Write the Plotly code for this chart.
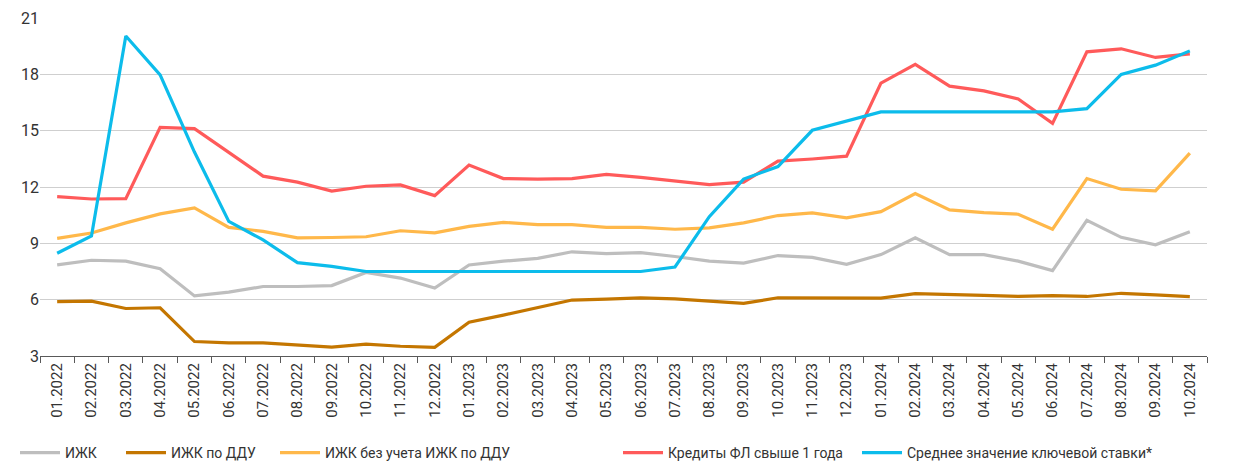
import plotly.graph_objects as go

months = ["01.2022","02.2022","03.2022","04.2022","05.2022","06.2022","07.2022","08.2022","09.2022","10.2022","11.2022","12.2022",
          "01.2023","02.2023","03.2023","04.2023","05.2023","06.2023","07.2023","08.2023","09.2023","10.2023","11.2023","12.2023",
          "01.2024","02.2024","03.2024","04.2024","05.2024","06.2024","07.2024","08.2024","09.2024","10.2024"]

izhk = [7.85,8.1,8.05,7.65,6.2,6.4,6.7,6.7,6.75,7.45,7.15,6.62,
        7.85,8.05,8.2,8.55,8.45,8.5,8.3,8.05,7.95,8.35,8.25,7.88,
        8.4,9.3,8.4,8.4,8.05,7.55,10.22,9.32,8.92,9.62]
izhk_ddu = [5.9,5.92,5.53,5.57,3.77,3.7,3.7,3.58,3.47,3.63,3.52,3.46,
            4.8,5.18,5.57,5.98,6.03,6.1,6.04,5.9,5.8,6.1,6.1,6.1,
            6.08,6.32,6.29,6.23,6.17,6.22,6.17,6.34,6.25,6.16]
izhk_wo_ddu = [9.26,9.55,10.09,10.57,10.89,9.85,9.64,9.29,9.31,9.35,9.67,9.56,
               9.9,10.12,10.0,10.0,9.85,9.85,9.75,9.82,10.09,10.48,10.62,10.36,
               10.69,11.65,10.78,10.64,10.55,9.75,12.45,11.88,11.8,13.8]
credits = [11.49,11.36,11.38,15.18,15.11,13.86,12.58,12.26,11.78,12.04,12.11,11.54,
           13.17,12.45,12.42,12.45,12.67,12.51,12.33,12.13,12.26,13.38,13.49,13.64,
           17.53,18.53,17.37,17.12,16.69,15.39,19.2,19.36,18.9,19.09]
key_rate = [8.47,9.39,20.04,17.97,13.86,10.17,9.18,7.97,7.77,7.5,7.5,7.5,
            7.5,7.5,7.5,7.5,7.5,7.5,7.74,10.42,12.42,13.09,15.02,15.5,
            16.0,16.0,16.0,16.0,16.0,16.0,16.17,18.0,18.49,19.25]

names = ["ИЖК","ИЖК по ДДУ","ИЖК без учета ИЖК по ДДУ","Кредиты ФЛ свыше 1 года","Среднее значение ключевой ставки*"]
colors = ["#BEBEBE","#C47600","#FFB84A","#FF5A5A","#0CBCEB"]
series = [izhk, izhk_ddu, izhk_wo_ddu, credits, key_rate]
legend_ids = ["legend","legend2","legend3","legend4","legend5"]
legend_px = [15, 121, 275, 618, 857]

W, H = 1247, 465
FONT = "Roboto, Arial, sans-serif"

fig = go.Figure()
for n, c, s, lg in zip(names, colors, series, legend_ids):
    fig.add_trace(go.Scatter(x=months, y=s, name=n, mode="lines", showlegend=True,
                             line=dict(color=c, width=3.2), legend=lg))

layout_legends = {}
for lg, lx in zip(legend_ids, legend_px):
    layout_legends[lg] = dict(orientation="h", xref="container", yref="container",
                              x=lx / W, xanchor="left", y=1 - 453 / H, yanchor="middle",
                              font=dict(size=14, color="#333333"), itemwidth=40,
                              bgcolor="rgba(0,0,0,0)")

fig.update_layout(
    width=W, height=H, showlegend=True,
    margin=dict(l=40, r=40, t=18, b=109, autoexpand=False),
    paper_bgcolor="white", plot_bgcolor="white",
    font=dict(family=FONT, size=15, color="#333333"),
    xaxis=dict(type="category", tickangle=-90, tickfont=dict(size=15, color="#333333"),
               showgrid=False, showline=True, linecolor="#595959", linewidth=1.2,
               ticks="outside", tickson="boundaries", ticklen=6, tickcolor="#595959",
               range=[-0.5, len(months)-0.5]),
    yaxis=dict(range=[3, 21], dtick=3, tick0=3, showgrid=True, gridcolor="#CFCFCF",
               gridwidth=1.2, zeroline=False, showline=False, ticks="",
               tickfont=dict(size=16, color="#333333")),
    **layout_legends,
)

fig.write_html("out.html", config={"displayModeBar": False},
               post_script="document.body.style.margin='0';document.body.style.overflow='hidden';")
